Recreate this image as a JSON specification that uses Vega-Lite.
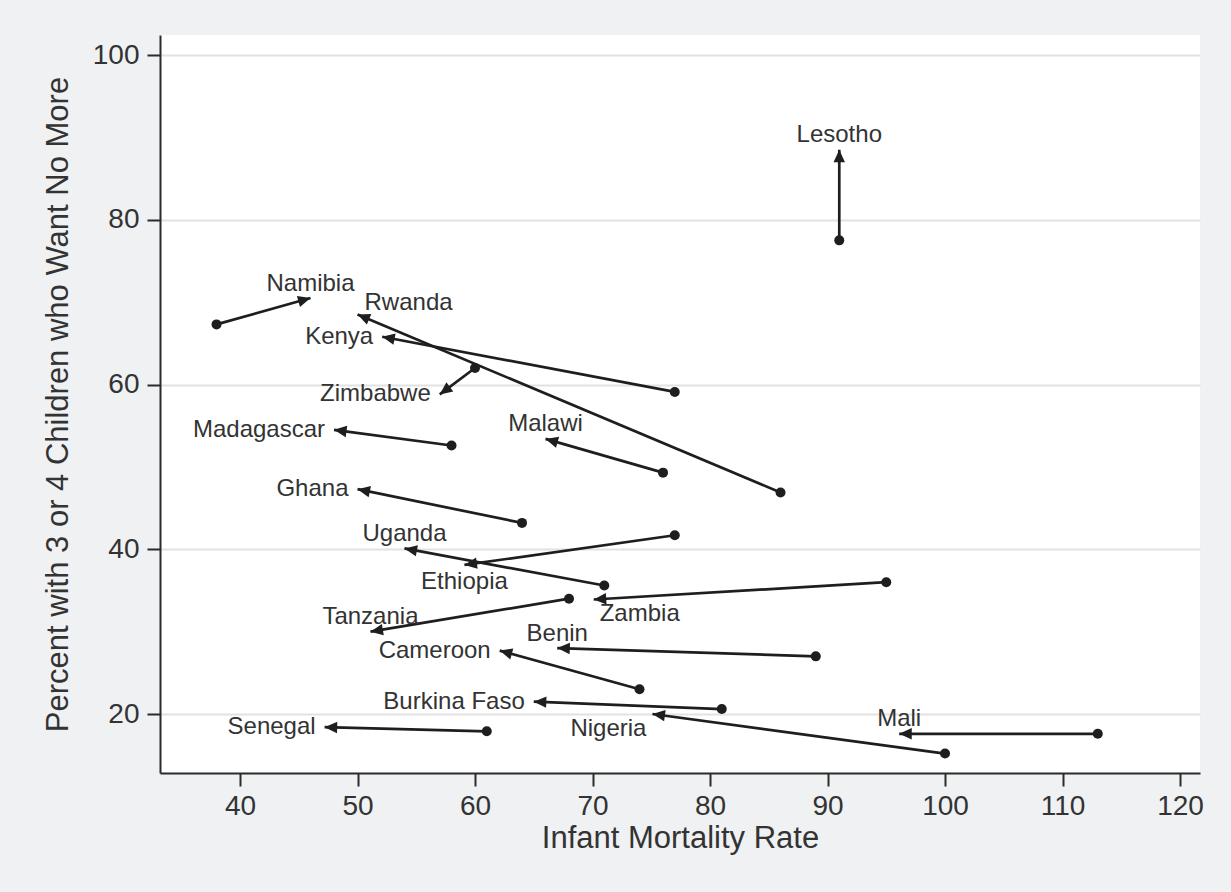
{
  "$schema": "https://vega.github.io/schema/vega-lite/v6.json",
  "width": 1040,
  "height": 738,
  "autosize": {"type": "none"},
  "padding": {"left": 160, "top": 35, "right": 31, "bottom": 119},
  "background": "#eff1f3",
  "config": {
    "view": {"fill": "white", "stroke": null},
    "font": "Liberation Sans",
    "axis": {
      "domainColor": "#2b2b2b",
      "domainWidth": 2,
      "tickColor": "#2b2b2b",
      "tickWidth": 2,
      "tickSize": 13,
      "labelFont": "Liberation Sans",
      "labelFontSize": 28,
      "labelColor": "#333333",
      "titleFont": "Liberation Sans",
      "titleFontSize": 31,
      "titleFontWeight": "normal",
      "titleColor": "#333333"
    },
    "axisX": {"grid": false, "labelPadding": 6, "titlePadding": 3},
    "axisY": {"grid": true, "gridColor": "#e2e2e2", "gridWidth": 2, "labelPadding": 8, "titlePadding": 18}
  },
  "data": {
    "values": [
      {"country": "Lesotho", "imr_start": 91, "pct_start": 77.5, "imr_end": 91, "pct_end": 88.5},
      {"country": "Namibia", "imr_start": 38, "pct_start": 67.3, "imr_end": 46, "pct_end": 70.5},
      {"country": "Rwanda", "imr_start": 86, "pct_start": 46.9, "imr_end": 50, "pct_end": 68.5},
      {"country": "Kenya", "imr_start": 77, "pct_start": 59.1, "imr_end": 52.1, "pct_end": 65.8},
      {"country": "Zimbabwe", "imr_start": 60, "pct_start": 62.0, "imr_end": 57, "pct_end": 58.8},
      {"country": "Madagascar", "imr_start": 58, "pct_start": 52.6, "imr_end": 48, "pct_end": 54.5},
      {"country": "Malawi", "imr_start": 76, "pct_start": 49.3, "imr_end": 66, "pct_end": 53.4},
      {"country": "Ghana", "imr_start": 64, "pct_start": 43.2, "imr_end": 50, "pct_end": 47.3},
      {"country": "Uganda", "imr_start": 71, "pct_start": 35.6, "imr_end": 54, "pct_end": 40.1},
      {"country": "Ethiopia", "imr_start": 77, "pct_start": 41.7, "imr_end": 59.1, "pct_end": 38.1},
      {"country": "Zambia", "imr_start": 95, "pct_start": 36.0, "imr_end": 70.1, "pct_end": 33.9},
      {"country": "Tanzania", "imr_start": 68, "pct_start": 34.0, "imr_end": 51.1, "pct_end": 30.0},
      {"country": "Benin", "imr_start": 89, "pct_start": 27.0, "imr_end": 67, "pct_end": 28.0},
      {"country": "Cameroon", "imr_start": 74, "pct_start": 23.0, "imr_end": 62.1, "pct_end": 27.7},
      {"country": "Burkina Faso", "imr_start": 81, "pct_start": 20.6, "imr_end": 65, "pct_end": 21.5},
      {"country": "Senegal", "imr_start": 61, "pct_start": 17.9, "imr_end": 47.2, "pct_end": 18.4},
      {"country": "Nigeria", "imr_start": 100, "pct_start": 15.2, "imr_end": 75.1, "pct_end": 20.0},
      {"country": "Mali", "imr_start": 113, "pct_start": 17.6, "imr_end": 96.1, "pct_end": 17.6}
    ]
  },
  "layer": [
    {
      "mark": {"type": "rule", "color": "#1e1e1e", "strokeWidth": 2.7},
      "encoding": {
        "x": {"field": "imr_start", "type": "quantitative", "title": "Infant Mortality Rate",
              "scale": {"domain": [33.19, 121.7], "nice": false, "zero": false},
              "axis": {"values": [40, 50, 60, 70, 80, 90, 100, 110, 120]}},
        "y": {"field": "pct_start", "type": "quantitative", "title": "Percent with 3 or 4 Children who Want No More",
              "scale": {"domain": [12.84, 102.43], "nice": false, "zero": false},
              "axis": {"values": [20, 40, 60, 80, 100]}},
        "x2": {"field": "imr_end"},
        "y2": {"field": "pct_end"}
      }
    },
    {
      "mark": {"type": "point", "shape": "circle", "filled": true, "color": "#1e1e1e", "size": 100, "opacity": 1},
      "encoding": {
        "x": {"field": "imr_start", "type": "quantitative", "title": "Infant Mortality Rate"},
        "y": {"field": "pct_start", "type": "quantitative", "title": "Percent with 3 or 4 Children who Want No More"}
      }
    },
    {
      "transform": [
        {"calculate": "atan2(-(datum.pct_end - datum.pct_start) * 8.237, (datum.imr_end - datum.imr_start) * 11.75) * 180 / PI", "as": "arrow_angle"}
      ],
      "mark": {"type": "point", "shape": "M0,0L-2.2,-1L-2.2,1Z", "filled": true, "color": "#1e1e1e", "size": 130, "opacity": 1},
      "encoding": {
        "x": {"field": "imr_end", "type": "quantitative", "title": "Infant Mortality Rate"},
        "y": {"field": "pct_end", "type": "quantitative", "title": "Percent with 3 or 4 Children who Want No More"},
        "angle": {"field": "arrow_angle", "type": "quantitative", "scale": null}
      }
    },
    {
      "transform": [{"filter": {"field": "country", "oneOf": ["Lesotho", "Namibia", "Malawi", "Uganda", "Tanzania", "Benin", "Mali"]}}],
      "mark": {"type": "text", "align": "center", "baseline": "alphabetic", "dy": -7.5, "fontSize": 24, "color": "#333333"},
      "encoding": {
        "x": {"field": "imr_end", "type": "quantitative", "title": "Infant Mortality Rate"},
        "y": {"field": "pct_end", "type": "quantitative", "title": "Percent with 3 or 4 Children who Want No More"},
        "text": {"field": "country"}
      }
    },
    {
      "transform": [{"filter": {"field": "country", "oneOf": ["Kenya", "Zimbabwe", "Madagascar", "Ghana", "Cameroon", "Burkina Faso", "Senegal"]}}],
      "mark": {"type": "text", "align": "right", "baseline": "alphabetic", "dx": -9, "dy": 7, "fontSize": 24, "color": "#333333"},
      "encoding": {
        "x": {"field": "imr_end", "type": "quantitative", "title": "Infant Mortality Rate"},
        "y": {"field": "pct_end", "type": "quantitative", "title": "Percent with 3 or 4 Children who Want No More"},
        "text": {"field": "country"}
      }
    },
    {
      "transform": [{"filter": {"field": "country", "equal": "Ethiopia"}}],
      "mark": {"type": "text", "align": "center", "baseline": "alphabetic", "dy": 24, "fontSize": 24, "color": "#333333"},
      "encoding": {
        "x": {"field": "imr_end", "type": "quantitative", "title": "Infant Mortality Rate"},
        "y": {"field": "pct_end", "type": "quantitative", "title": "Percent with 3 or 4 Children who Want No More"},
        "text": {"field": "country"}
      }
    },
    {
      "transform": [{"filter": {"field": "country", "equal": "Rwanda"}}],
      "mark": {"type": "text", "align": "left", "baseline": "alphabetic", "dx": 7, "dy": -4, "fontSize": 24, "color": "#333333"},
      "encoding": {
        "x": {"field": "imr_end", "type": "quantitative", "title": "Infant Mortality Rate"},
        "y": {"field": "pct_end", "type": "quantitative", "title": "Percent with 3 or 4 Children who Want No More"},
        "text": {"field": "country"}
      }
    },
    {
      "transform": [{"filter": {"field": "country", "equal": "Zambia"}}],
      "mark": {"type": "text", "align": "left", "baseline": "alphabetic", "dx": 6, "dy": 21, "fontSize": 24, "color": "#333333"},
      "encoding": {
        "x": {"field": "imr_end", "type": "quantitative", "title": "Infant Mortality Rate"},
        "y": {"field": "pct_end", "type": "quantitative", "title": "Percent with 3 or 4 Children who Want No More"},
        "text": {"field": "country"}
      }
    },
    {
      "transform": [{"filter": {"field": "country", "equal": "Nigeria"}}],
      "mark": {"type": "text", "align": "right", "baseline": "alphabetic", "dx": -6, "dy": 22, "fontSize": 24, "color": "#333333"},
      "encoding": {
        "x": {"field": "imr_end", "type": "quantitative", "title": "Infant Mortality Rate"},
        "y": {"field": "pct_end", "type": "quantitative", "title": "Percent with 3 or 4 Children who Want No More"},
        "text": {"field": "country"}
      }
    }
  ]
}
